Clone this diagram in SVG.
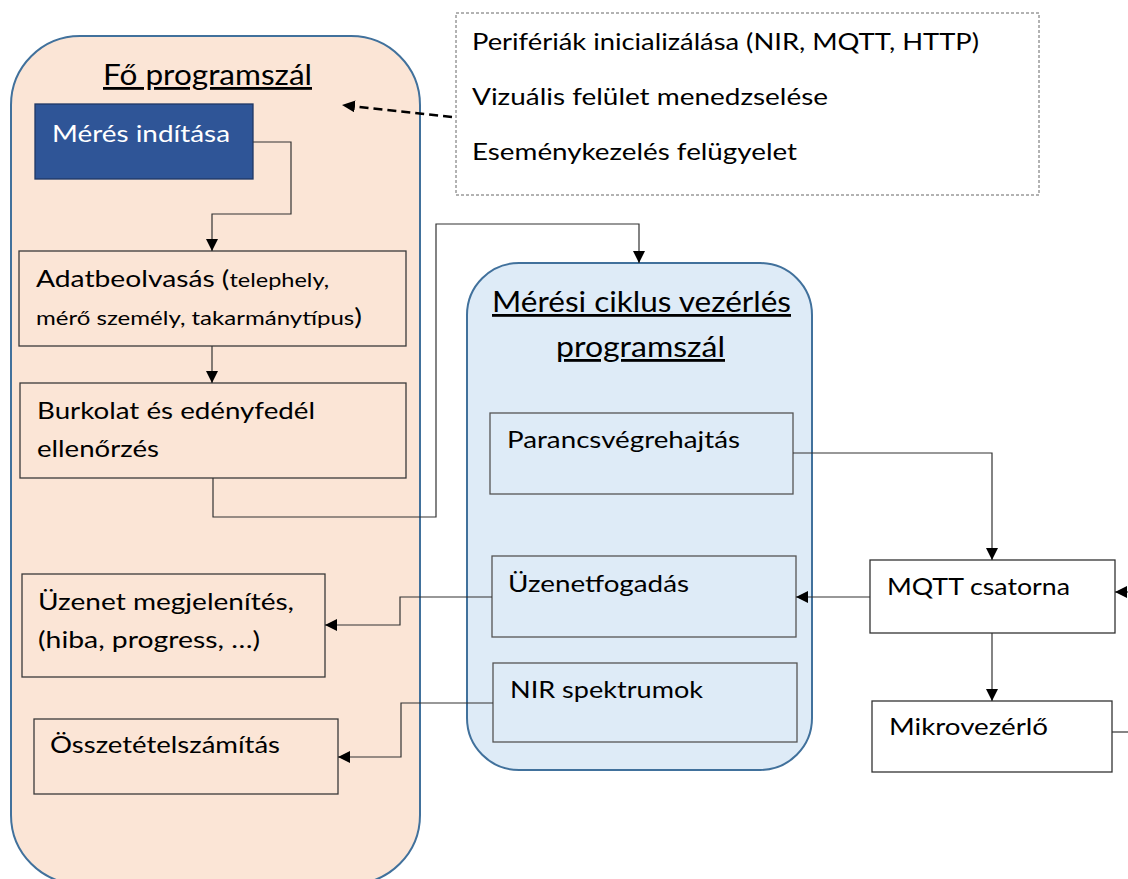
<svg xmlns="http://www.w3.org/2000/svg" width="1128" height="879" viewBox="0 0 1128 879">
<style>
text{font-family:Lato,"Open Sans","Liberation Sans",sans-serif;fill:#000}
.t{font-size:24px}
.ti{font-size:28px;text-decoration:underline}
.orange{fill:#FBE5D6;stroke:#41719C;stroke-width:2}
.blue{fill:#DEEBF7;stroke:#41719C;stroke-width:2}
.ob{fill:#FBE5D6;stroke:#3a3a3a;stroke-width:1.3}
.bb{fill:#DEEBF7;stroke:#555;stroke-width:1.3}
.wb{fill:#fff;stroke:#333;stroke-width:1.3}
.con path{fill:none;stroke:#333;stroke-width:1.2}
</style>
<defs>
<marker id="ar" markerUnits="userSpaceOnUse" markerWidth="13" markerHeight="12" refX="12" refY="6" orient="auto">
<path d="M0,0 L12,6 L0,12 z" fill="#000"/>
</marker>
<marker id="ard" markerUnits="userSpaceOnUse" markerWidth="14" markerHeight="12" refX="13" refY="6" orient="auto">
<path d="M0,0 L13,6 L0,12 z" fill="#000"/>
</marker>
</defs>
<g id="main-thread">
<rect class="orange" x="11" y="36" width="409" height="848" rx="69"/>
<text class="ti" x="103" y="85" textLength="209" lengthAdjust="spacingAndGlyphs">Fő programszál</text>
</g>
<g id="cycle-thread">
<rect class="blue" x="467" y="263" width="345" height="507" rx="52"/>
<text class="ti" x="492" y="312" textLength="299" lengthAdjust="spacingAndGlyphs">Mérési ciklus vezérlés</text>
<text class="ti" x="556" y="357" textLength="169" lengthAdjust="spacingAndGlyphs">programszál</text>
</g>
<g id="peripherals">
<rect x="456" y="13" width="583" height="182" fill="#fff" stroke="#666" stroke-width="1" stroke-dasharray="3 2"/>
<text class="t" x="472" y="50" textLength="507" lengthAdjust="spacingAndGlyphs">Perifériák inicializálása (NIR, MQTT, HTTP)</text>
<text class="t" x="472" y="105" textLength="356" lengthAdjust="spacingAndGlyphs">Vizuális felület menedzselése</text>
<text class="t" x="472" y="160" textLength="325" lengthAdjust="spacingAndGlyphs">Eseménykezelés felügyelet</text>
</g>
<g id="meres-inditasa">
<rect x="35" y="104" width="218" height="75" fill="#2F5597" stroke="#1F3864" stroke-width="1.3"/>
<text class="t" x="52" y="142" style="fill:#fff" textLength="178" lengthAdjust="spacingAndGlyphs">Mérés indítása</text>
</g>
<g id="adatbeolvasas">
<rect class="ob" x="19" y="251" width="387" height="95"/>
<text x="36" y="287" textLength="293" lengthAdjust="spacingAndGlyphs"><tspan font-size="24">Adatbeolvasás (</tspan><tspan font-size="20">telephely,</tspan></text>
<text x="36" y="325" textLength="326" lengthAdjust="spacingAndGlyphs"><tspan font-size="20">mérő személy, takarmánytípus</tspan><tspan font-size="24">)</tspan></text>
</g>
<g id="burkolat">
<rect class="ob" x="20" y="383" width="386" height="95"/>
<text class="t" x="37" y="419" textLength="278" lengthAdjust="spacingAndGlyphs">Burkolat és edényfedél</text>
<text class="t" x="37" y="457" textLength="122" lengthAdjust="spacingAndGlyphs">ellenőrzés</text>
</g>
<g id="uzenet-megjelenites">
<rect class="ob" x="22" y="574" width="303" height="103"/>
<text class="t" x="38" y="610" textLength="256" lengthAdjust="spacingAndGlyphs">Üzenet megjelenítés,</text>
<text class="t" x="38" y="648" textLength="222" lengthAdjust="spacingAndGlyphs">(hiba, progress, …)</text>
</g>
<g id="osszetetel">
<rect class="ob" x="34" y="719" width="304" height="75"/>
<text class="t" x="50" y="753" textLength="230" lengthAdjust="spacingAndGlyphs">Összetételszámítás</text>
</g>
<g id="parancs">
<rect class="bb" x="490" y="413" width="303" height="81"/>
<text class="t" x="507" y="448" textLength="233" lengthAdjust="spacingAndGlyphs">Parancsvégrehajtás</text>
</g>
<g id="uzenetfogadas">
<rect class="bb" x="492" y="556" width="304" height="81"/>
<text class="t" x="508" y="592" textLength="181" lengthAdjust="spacingAndGlyphs">Üzenetfogadás</text>
</g>
<g id="nir">
<rect class="bb" x="493" y="663" width="304" height="79"/>
<text class="t" x="510" y="698" textLength="193" lengthAdjust="spacingAndGlyphs">NIR spektrumok</text>
</g>
<g id="mqtt">
<rect class="wb" x="870" y="560" width="245" height="73"/>
<text class="t" x="887" y="595" textLength="183" lengthAdjust="spacingAndGlyphs">MQTT csatorna</text>
</g>
<g id="mikrovezerlo">
<rect class="wb" x="872" y="701" width="240" height="71"/>
<text class="t" x="889" y="735" textLength="159" lengthAdjust="spacingAndGlyphs">Mikrovezérlő</text>
</g>
<g id="connectors" class="con">
<path d="M253,142 H291 V214 H212 V251" marker-end="url(#ar)"/>
<path d="M212,346 V383" marker-end="url(#ar)"/>
<path d="M213,478 V517 H436 V224 H639 V263" marker-end="url(#ar)"/>
<path d="M793,453 H992 V560" marker-end="url(#ar)"/>
<path d="M870,597 H796" marker-end="url(#ar)"/>
<path d="M992,633 V701" marker-end="url(#ar)"/>
<path d="M1128,592 H1115" marker-end="url(#ar)"/>
<path d="M1112,732 H1128"/>
<path d="M492,597 H400 V625 H325" marker-end="url(#ar)"/>
<path d="M493,703 H401 V757 H338" marker-end="url(#ar)"/>
<path d="M452,117 L342,105" style="stroke:#000;stroke-width:2.5;stroke-dasharray:9 5" marker-end="url(#ard)"/>
</g>
</svg>
